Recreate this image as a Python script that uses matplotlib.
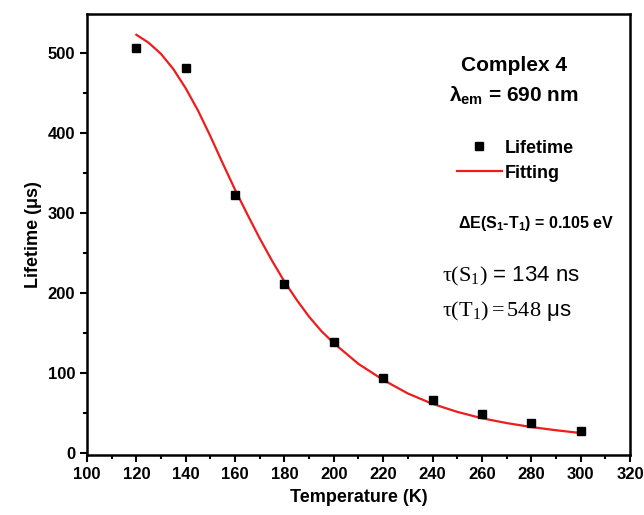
import numpy as np
import matplotlib
matplotlib.use("Agg")
import matplotlib.pyplot as plt
from matplotlib.ticker import MultipleLocator

plt.rcParams['font.family'] = ['Liberation Sans', 'DejaVu Sans']
plt.rcParams['mathtext.fontset'] = 'custom'
plt.rcParams['mathtext.rm'] = 'Liberation Serif'
plt.rcParams['mathtext.sf'] = 'Liberation Sans'
plt.rcParams['mathtext.bf'] = 'Liberation Sans:bold'
plt.rcParams['mathtext.it'] = 'Liberation Serif:italic'

# measured lifetime (us) vs temperature (K)
temp = [120, 140, 160, 180, 200, 220, 240, 260, 280, 300]
lifetime = [506, 481, 323, 211, 138, 93, 66, 48, 37, 27]

# fitting curve
fit_temp = [120, 125, 130, 135, 140, 145, 150, 155, 160, 165, 170, 175, 180,
            185, 190, 195, 200, 210, 220, 230, 240, 250, 260, 270, 280, 290, 300]
fit_life = [523, 513, 499, 480, 456, 428, 396, 362, 329, 298, 268, 240, 214,
            191, 170, 152, 137, 111, 91, 74, 61, 51, 43, 37, 32, 28, 24.5]

fig = plt.figure(figsize=(6.44, 5.15), dpi=100)
ax = fig.add_axes([87/644, 60/515, 543/644, 441/515])

ax.plot(temp, lifetime, 's', color='black', markersize=6, label='Lifetime', zorder=3)
ax.plot(fit_temp, fit_life, '-', color='#ee1c1c', linewidth=1.6, label='Fitting')

ax.set_xlim(100, 320)
ax.set_ylim(-3, 549)
ax.xaxis.set_major_locator(MultipleLocator(20))
ax.xaxis.set_minor_locator(MultipleLocator(10))
ax.yaxis.set_major_locator(MultipleLocator(100))
ax.yaxis.set_minor_locator(MultipleLocator(50))
ax.tick_params(which='both', direction='out', width=1.5, labelsize=12)
ax.tick_params(which='major', length=5)
ax.tick_params(which='minor', length=3)
for lab in ax.get_xticklabels() + ax.get_yticklabels():
    lab.set_fontweight('bold')
for sp in ax.spines.values():
    sp.set_linewidth(1.8)

ax.set_xlabel('Temperature (K)', fontsize=13, fontweight='bold', labelpad=5)
ax.set_ylabel('Lifetime (μs)', fontsize=13, fontweight='bold', labelpad=4)

ax.text(0.786, 0.884, 'Complex 4', transform=ax.transAxes, ha='center', va='center',
        fontsize=15, fontweight='bold')
ax.text(0.786, 0.814, r'$\mathbf{λ_{em}}$ = 690 nm', transform=ax.transAxes,
        ha='center', va='center', fontsize=15, fontweight='bold')

leg = ax.legend(loc='upper left', bbox_to_anchor=(0.681, 0.715), frameon=False,
                borderpad=0, borderaxespad=0, handlelength=2.5, handletextpad=0.15,
                labelspacing=0.45, prop={'size': 13, 'weight': 'bold'})

ax.text(0.683, 0.526, r'ΔE(S$_\mathbf{1}$-T$_\mathbf{1}$) = 0.105 eV', transform=ax.transAxes,
        ha='left', va='center', fontsize=11.5, fontweight='bold')
ax.text(0.653, 0.404, r'$\mathrm{\tau(S_1)}$ = 134 ns', transform=ax.transAxes,
        ha='left', va='center', fontsize=16)
ax.text(0.653, 0.327, r'$\mathrm{\tau(T_1) = 548}$ μs', transform=ax.transAxes,
        ha='left', va='center', fontsize=16)

plt.savefig('out.png', dpi=100)
